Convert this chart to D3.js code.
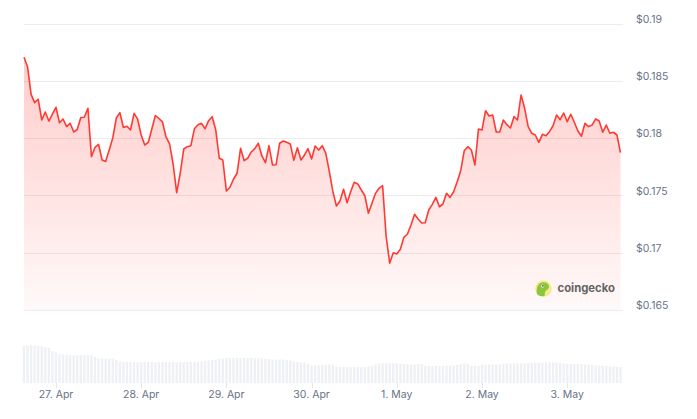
<!DOCTYPE html>
<html>
<head>
<meta charset="utf-8">
<script src="https://cdn.jsdelivr.net/npm/d3@7"></script>
<style>
  html, body { margin: 0; padding: 0; background: #fff; }
  svg { display: block; }
</style>
</head>
<body>
<svg id="chart" width="697" height="419"></svg>
<script>
// ---- Data ----
const startTime = Date.UTC(2024, 3, 26, 15); // 26 Apr 15:00, hourly points
const prices = [
  0.18705,0.18623,0.18381,0.18309,0.18339,0.18158,0.18228,0.18149,0.18210,0.18269,
  0.18134,0.18167,0.18100,0.18129,0.18053,0.18075,0.18180,0.18182,0.18260,0.17838,
  0.17920,0.17946,0.17809,0.17796,0.17896,0.18001,0.18175,0.18222,0.18093,0.18103,
  0.18071,0.18216,0.18165,0.18027,0.17940,0.17962,0.18079,0.18197,0.18171,0.18141,
  0.18010,0.17949,0.17774,0.17524,0.17693,0.17905,0.17925,0.17934,0.18082,0.18117,
  0.18129,0.18082,0.18152,0.18187,0.18071,0.17824,0.17809,0.17538,0.17571,0.17641,
  0.17693,0.17911,0.17803,0.17824,0.17879,0.17908,0.17955,0.17844,0.17785,0.17934,
  0.17765,0.17768,0.17955,0.17975,0.17963,0.17949,0.17806,0.17916,0.17809,0.17853,
  0.17908,0.17818,0.17931,0.17896,0.17934,0.17867,0.17707,0.17532,0.17408,0.17451,
  0.17553,0.17436,0.17532,0.17614,0.17600,0.17547,0.17497,0.17344,0.17431,0.17518,
  0.17562,0.17585,0.17140,0.16908,0.17000,0.16989,0.17030,0.17134,0.17163,0.17242,
  0.17335,0.17294,0.17259,0.17262,0.17373,0.17422,0.17483,0.17401,0.17425,0.17518,
  0.17483,0.17532,0.17620,0.17716,0.17890,0.17925,0.17896,0.17765,0.18079,0.18071,
  0.18239,0.18193,0.18202,0.18053,0.18053,0.18158,0.18117,0.18088,0.18187,0.18158,
  0.18376,0.18260,0.18100,0.18042,0.18027,0.17963,0.18033,0.18021,0.18056,0.18108,
  0.18202,0.18161,0.18219,0.18143,0.18208,0.18138,0.18062,0.18016,0.18129,0.18100,
  0.18114,0.18167,0.18149,0.18051,0.18114,0.18042,0.18051,0.18027,0.17873
];
const volumes = [ // millions (relative)
  37.5,37.7,37.7,37.4,37.2,36.8,36.2,
  35,32,30.5,29.5,
  28.5,28.3,28,28,28,28,28,28,27.5,
  26,
  24.5,24.5,24.5,24.5,24.5,
  23,
  21.5,21.3,21,21,21,20.8,21,21,21,21,20.8,21,21,21,21,21,20.8,21,21,21,21,21.2,21.3,
  21.5,22,22.5,23,23.5,24,24.5,
  25,25,25,25,25,25,25,25,24.8,24.8,
  24.5,24,24,23.5,23.5,23.5,23.5,23,22.5,
  21.5,21,20.5,20.5,19,17.5,
  17.5,17.5,18,18,18.5,18.5,
  16.5,16,16,16,16,16,16,16,16,16.5,17,18.5,19.5,
  19.5,20,20,20,20,19.5,
  19,19,18.5,18.5,19,19,
  17,17,17,17,17,17,17,17.5,17.5,18,
  19,19.5,19,
  17.5,17,17,
  18.5,18.5,18.5,18.5,18.5,18.5,19,19.5,19.5,
  19.5,19.5,19.5,20,20,20,
  20.5,20.5,20.5,20.7,20.7,20.5,20.3,20,19.5,
  19,19,19,18.8,18.8,18.5,18.5,18.3,
  17.5,17.5,17,17,16.5,16.5,16,16
];
const yTicks = [0.165, 0.17, 0.175, 0.18, 0.185, 0.19];
const yTickLabels = ["$0.165", "$0.17", "$0.175", "$0.18", "$0.185", "$0.19"];
const xTickDates = [
  Date.UTC(2024,3,27), Date.UTC(2024,3,28), Date.UTC(2024,3,29), Date.UTC(2024,3,30),
  Date.UTC(2024,4,1), Date.UTC(2024,4,2), Date.UTC(2024,4,3)
];
const xTickLabels = ["27. Apr", "28. Apr", "29. Apr", "30. Apr", "1. May", "2. May", "3. May"];

// ---- Build ----
const HOUR = 3600 * 1000;
const series = prices.map((p, i) => ({ t: new Date(startTime + i * HOUR), p, v: volumes[i] }));

const svg = d3.select("#chart");
const font = "Inter, 'Noto Sans', sans-serif";
const textColor = "#677389";

const x = d3.scaleUtc()
  .domain([new Date(startTime), new Date(startTime + 168 * HOUR)])
  .range([24, 620.5]);
const y = d3.scaleLinear().domain([0.165, 0.19]).range([310, 23.5]);
const yv = d3.scaleLinear().domain([0, 40]).range([383, 343]);

// gradient
const defs = svg.append("defs");
const grad = defs.append("linearGradient")
  .attr("id", "areaGrad").attr("gradientUnits", "userSpaceOnUse")
  .attr("x1", 0).attr("x2", 0).attr("y1", y(0.187)).attr("y2", 310);
grad.append("stop").attr("offset", "0%").attr("stop-color", "#ff3a33").attr("stop-opacity", 0.26);
grad.append("stop").attr("offset", "100%").attr("stop-color", "#ff3a33").attr("stop-opacity", 0.03);

// grid lines
svg.append("g").selectAll("line").data(yTicks).join("line")
  .attr("x1", 24).attr("x2", 623)
  .attr("y1", d => Math.round(y(d)) + 0.5).attr("y2", d => Math.round(y(d)) + 0.5)
  .attr("stroke", "#ececec").attr("stroke-width", 1);

// y labels
svg.append("g").selectAll("text").data(yTicks).join("text")
  .attr("x", 636).attr("y", d => y(d) - 3.5)
  .attr("dominant-baseline", "middle")
  .attr("font-family", font).attr("font-size", 10.5).attr("fill", textColor)
  .text((d, i) => yTickLabels[i]);

// area
const area = d3.area().x(d => x(d.t)).y0(310).y1(d => y(d.p)).curve(d3.curveLinear);
svg.append("path").datum(series).attr("d", area).attr("fill", "url(#areaGrad)");

// line
const line = d3.line().x(d => x(d.t)).y(d => y(d.p));
svg.append("path").datum(series).attr("d", line)
  .attr("fill", "none").attr("stroke", "#ff3a33").attr("stroke-width", 1.6)
  .attr("stroke-linejoin", "round");

// volume bars
const bw = 2.3;
svg.append("g").selectAll("rect").data(series).join("rect")
  .attr("x", d => x(d.t) - bw / 2)
  .attr("y", d => yv(d.v))
  .attr("width", bw)
  .attr("height", d => yv(0) - yv(d.v))
  .attr("fill", "#eef0f4");

// x axis ticks + labels
const xg = svg.append("g");
xg.selectAll("line").data(xTickDates).join("line")
  .attr("x1", d => Math.round(x(new Date(d))) + 0.5).attr("x2", d => Math.round(x(new Date(d))) + 0.5)
  .attr("y1", 383).attr("y2", 388)
  .attr("stroke", "#e3e6eb").attr("stroke-width", 1);
xg.selectAll("text").data(xTickDates).join("text")
  .attr("x", d => x(new Date(d)))
  .attr("y", 395)
  .attr("text-anchor", "middle").attr("dominant-baseline", "middle")
  .attr("font-family", font).attr("font-size", 10.5).attr("fill", textColor)
  .text((d, i) => xTickLabels[i]);

// coingecko watermark
const wm = svg.append("g").attr("transform", "translate(543.5,288.5)");
wm.append("circle").attr("r", 8.3).attr("fill", "#f6e98e");
wm.append("path")
  .attr("d", "M-6.5,5.5 C-7.5,0 -6,-5 -1.5,-6 C2,-6.6 5,-5 5.5,-2.5 C6,0 3.5,1 2,2.5 C1,4 1.5,6 1,7.5 C-2,8 -5,7.5 -6.5,5.5 Z")
  .attr("fill", "#8cc53f");
wm.append("circle").attr("cx", -0.8).attr("cy", -2.6).attr("r", 1.5).attr("fill", "#fff");
wm.append("circle").attr("cx", -0.6).attr("cy", -2.6).attr("r", 0.8).attr("fill", "#333");
svg.append("text")
  .attr("x", 557.5).attr("y", 288.5)
  .attr("dominant-baseline", "middle")
  .attr("font-family", font).attr("font-size", 11.3).attr("font-weight", 700)
  .attr("fill", "#646464")
  .text("coingecko");
</script>
</body>
</html>
